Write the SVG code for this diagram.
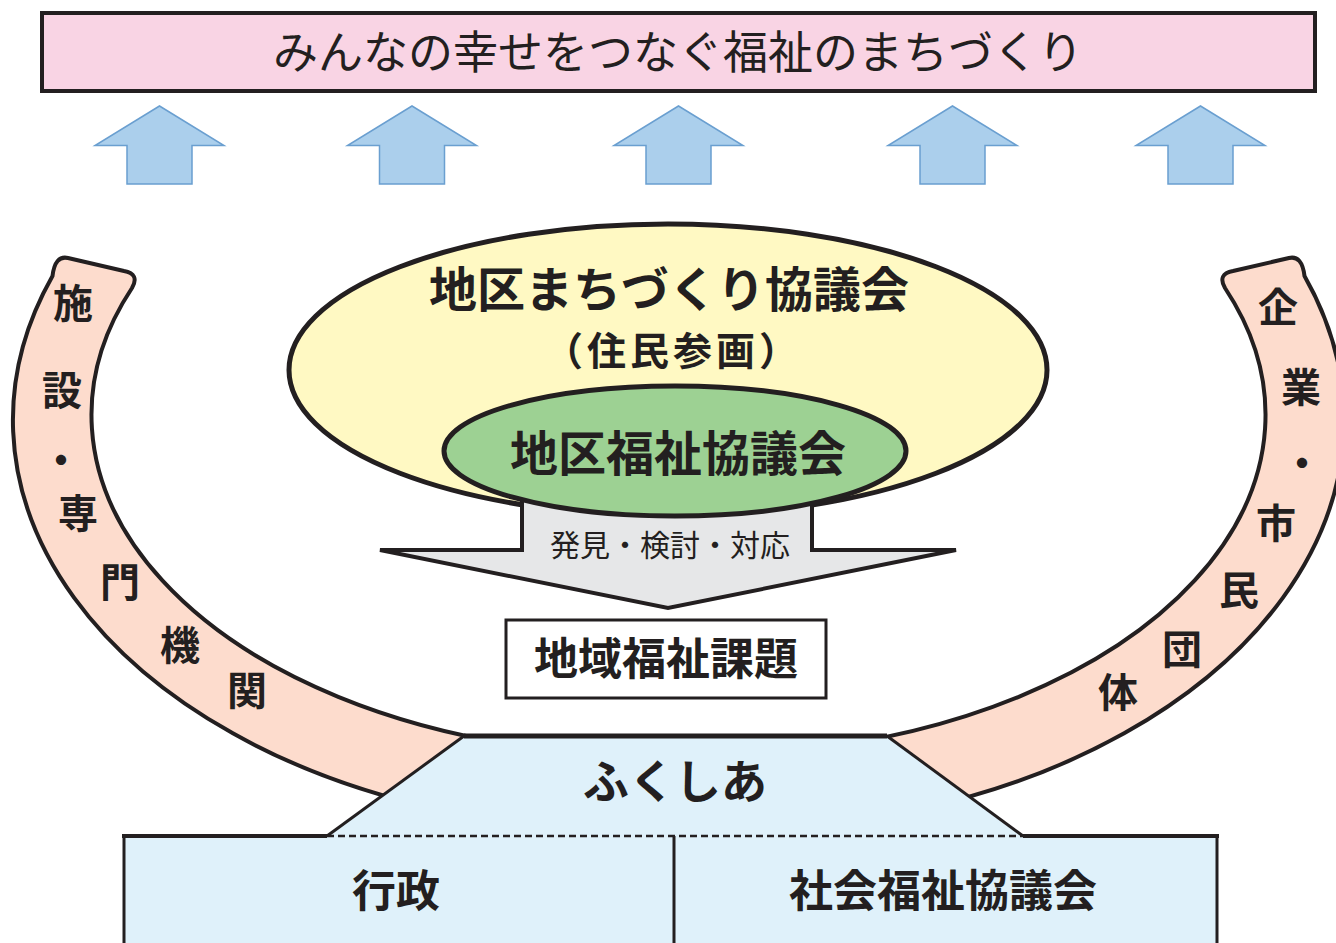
<svg xmlns="http://www.w3.org/2000/svg" xmlns:xlink="http://www.w3.org/1999/xlink" width="1336" height="943" viewBox="0 0 1336 943">
<style>
  .t { font-family: "Noto Sans CJK JP", "Noto Sans", sans-serif; fill: #231f20; text-anchor: middle; }
  .b { font-weight: 700; }
  .n { font-weight: 400; }
  .dark { stroke: #231f20; }
  .band { fill: #fddccd; stroke: #231f20; stroke-width: 4; stroke-linejoin: round; }
  .up { fill: #abcfec; stroke: #6a9fd0; stroke-width: 1.5; stroke-linejoin: miter; }
  .lb { fill: #dff1fa; }
</style>
<defs>
  <path id="upArrow" d="M0,0 L64.5,39.5 L32.5,39.5 L32.5,78 L-32.5,78 L-32.5,39.5 L-64.5,39.5 Z"/>
  <path id="bandPath" d="M 52.5,276 A 620 410 0 0 0 441,810 L 556,750 A 560 340 0 0 1 132,288 Q 140,274 124,271 L 68,258 Q 55,255 52.5,276 Z"/>
</defs>
<rect width="1336" height="943" fill="#ffffff"/>

<g id="goal">
  <rect x="42" y="13" width="1273" height="78" fill="#f9d4e4" stroke="#231f20" stroke-width="4"/>
  <text class="t n" x="678" y="69" font-size="45">みんなの幸せをつなぐ福祉のまちづくり</text>
</g>

<g id="band-left">
  <use xlink:href="#bandPath" class="band"/>
  <g class="t b" font-size="40">
    <text x="73" y="318">施</text>
    <text x="62" y="405">設</text>
    <text x="61" y="475">・</text>
    <text x="78" y="528">専</text>
    <text x="120" y="597">門</text>
    <text x="180" y="660">機</text>
    <text x="247" y="705">関</text>
  </g>
</g>

<g id="band-right">
  <use xlink:href="#bandPath" class="band" transform="matrix(-1 0 0 1 1357 0)"/>
  <g class="t b" font-size="40">
    <text x="1278" y="322">企</text>
    <text x="1301" y="402">業</text>
    <text x="1302" y="478">・</text>
    <text x="1276" y="538">市</text>
    <text x="1239" y="605">民</text>
    <text x="1182" y="664">団</text>
    <text x="1118" y="707">体</text>
  </g>
</g>

<g id="machizukuri">
  <ellipse cx="668" cy="370" rx="379" ry="146" fill="#fff9c3" stroke="#231f20" stroke-width="5"/>
  <text class="t b" x="669" y="307" font-size="48">地区まちづくり協議会</text>
  <text class="t b" x="673" y="365" font-size="39" letter-spacing="4">（住民参画）</text>
</g>

<g id="connectors">
  <use xlink:href="#upArrow" class="up" transform="translate(159.5,106)"/>
  <use xlink:href="#upArrow" class="up" transform="translate(412,106)"/>
  <use xlink:href="#upArrow" class="up" transform="translate(678.5,106)"/>
  <use xlink:href="#upArrow" class="up" transform="translate(952.5,106)"/>
  <use xlink:href="#upArrow" class="up" transform="translate(1200.5,106)"/>
  <g id="discover-arrow">
    <path d="M 522,490 L 522,550 L 380,550 L 668,608 L 956,550 L 812,550 L 812,490 Z" fill="#e6e7e8" stroke="#231f20" stroke-width="4" stroke-linejoin="miter"/>
    <text class="t n" x="670" y="556" font-size="30">発見・検討・対応</text>
  </g>
</g>

<g id="fukushi-kyogikai">
  <ellipse cx="675" cy="451" rx="231" ry="65" fill="#9dd193" stroke="#231f20" stroke-width="5"/>
  <text class="t b" x="678" y="471" font-size="48">地区福祉協議会</text>
</g>

<g id="kadai">
  <rect x="506" y="620" width="320" height="78" fill="#ffffff" stroke="#231f20" stroke-width="3"/>
  <text class="t b" x="666" y="675" font-size="44">地域福祉課題</text>
</g>

<g id="fukushia">
  <path class="lb" d="M 464,736 L 887,736 L 1023,836 L 327,836 Z"/>
  <line x1="464" y1="736" x2="887" y2="736" class="dark" stroke-width="5"/>
  <line x1="464" y1="736" x2="327" y2="836" class="dark" stroke-width="3"/>
  <line x1="887" y1="736" x2="1023" y2="836" class="dark" stroke-width="3"/>
  <text class="t b" x="675" y="798" font-size="46">ふくしあ</text>
</g>

<g id="gyosei">
  <rect class="lb" x="124" y="836" width="550" height="120"/>
  <line x1="124" y1="836" x2="124" y2="943" class="dark" stroke-width="3"/>
  <line x1="122" y1="836" x2="327" y2="836" class="dark" stroke-width="4"/>
  <text class="t b" x="396" y="907" font-size="44">行政</text>
</g>

<g id="shakyo">
  <rect class="lb" x="674" y="836" width="543" height="120"/>
  <line x1="1217" y1="836" x2="1217" y2="943" class="dark" stroke-width="3"/>
  <line x1="1023" y1="836" x2="1219" y2="836" class="dark" stroke-width="4"/>
  <line x1="674" y1="836" x2="674" y2="943" class="dark" stroke-width="3"/>
  <text class="t b" x="943" y="907" font-size="44">社会福祉協議会</text>
</g>

<line x1="327" y1="836" x2="1023" y2="836" class="dark" stroke-width="2.5" stroke-dasharray="7 4"/>
</svg>
